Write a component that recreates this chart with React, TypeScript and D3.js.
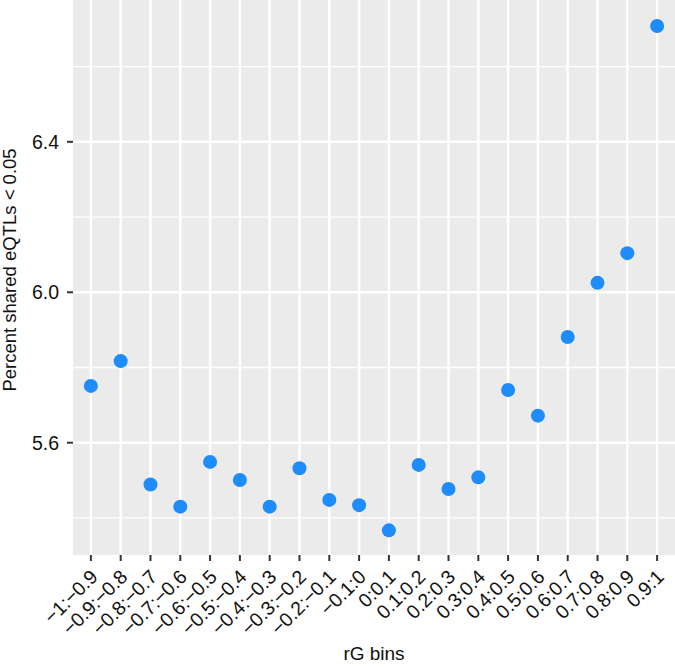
import * as d3 from "d3";

const categories = [
  "−1:−0.9", "−0.9:−0.8", "−0.8:−0.7", "−0.7:−0.6", "−0.6:−0.5",
  "−0.5:−0.4", "−0.4:−0.3", "−0.3:−0.2", "−0.2:−0.1", "−0.1:0",
  "0:0.1", "0.1:0.2", "0.2:0.3", "0.3:0.4", "0.4:0.5",
  "0.5:0.6", "0.6:0.7", "0.7:0.8", "0.8:0.9", "0.9:1",
];
const values = [
  5.751, 5.817, 5.489, 5.43, 5.549,
  5.501, 5.43, 5.532, 5.448, 5.434,
  5.367, 5.541, 5.477, 5.508, 5.74,
  5.672, 5.881, 6.025, 6.104, 6.708,
];
const majorTicks = [5.6, 6.0, 6.4];
const minorTicks = [5.4, 5.8, 6.2, 6.6];

const W = 675;
const H = 667;
const panel = { left: 73, right: 675, top: 0, bottom: 555 };
const font = "'Liberation Sans', Arial, Helvetica, sans-serif";

export default function App() {
  const x = d3
    .scalePoint<string>()
    .domain(categories)
    .range([panel.left, panel.right])
    .padding(0.6);
  const y = d3
    .scaleLinear()
    .domain([5.3015, 6.777])
    .range([panel.bottom, panel.top]);

  return (
    <svg
      width={W}
      height={H}
      style={{ position: "absolute", left: 0, top: 0, background: "white" }}
      fontFamily={font}
    >
      <rect
        x={panel.left}
        y={panel.top}
        width={panel.right - panel.left}
        height={panel.bottom - panel.top}
        fill="#EBEBEB"
      />
      {minorTicks.map((t) => (
        <line key={"mi" + t} x1={panel.left} x2={panel.right} y1={y(t)} y2={y(t)} stroke="white" strokeWidth={1.3} />
      ))}
      {majorTicks.map((t) => (
        <line key={"ma" + t} x1={panel.left} x2={panel.right} y1={y(t)} y2={y(t)} stroke="white" strokeWidth={2.4} />
      ))}
      {categories.map((c) => (
        <line key={"v" + c} x1={x(c)} x2={x(c)} y1={panel.top} y2={panel.bottom} stroke="white" strokeWidth={2.4} />
      ))}
      {categories.map((c, i) => (
        <circle key={"p" + c} cx={x(c)} cy={y(values[i])} r={7} fill="#1E8CFA" />
      ))}
      {/* y axis */}
      {majorTicks.map((t) => (
        <g key={"yt" + t}>
          <line x1={panel.left - 6} x2={panel.left} y1={y(t)} y2={y(t)} stroke="#333" strokeWidth={2} />
          <text x={panel.left - 14} y={y(t)} dy="0.36em" textAnchor="end" fontSize={19.5} fill="#111">
            {t.toFixed(1)}
          </text>
        </g>
      ))}
      {/* x axis */}
      {categories.map((c) => {
        const cx = x(c) as number;
        return (
          <g key={"xt" + c}>
            <line x1={cx} x2={cx} y1={panel.bottom} y2={panel.bottom + 6} stroke="#333" strokeWidth={2} />
            <text
              transform={`translate(${cx + 8},${panel.bottom + 23}) rotate(-45)`}
              textAnchor="end"
              fontSize={19.5}
              fill="#111"
            >
              {c}
            </text>
          </g>
        );
      })}
      <text x={(panel.left + panel.right) / 2} y={660} textAnchor="middle" fontSize={19} fill="#111">
        rG bins
      </text>
      <text
        transform={`translate(16,270) rotate(-90)`}
        textAnchor="middle"
        fontSize={18.5}
        fill="#111"
      >
        Percent shared eQTLs &lt; 0.05
      </text>
    </svg>
  );
}
